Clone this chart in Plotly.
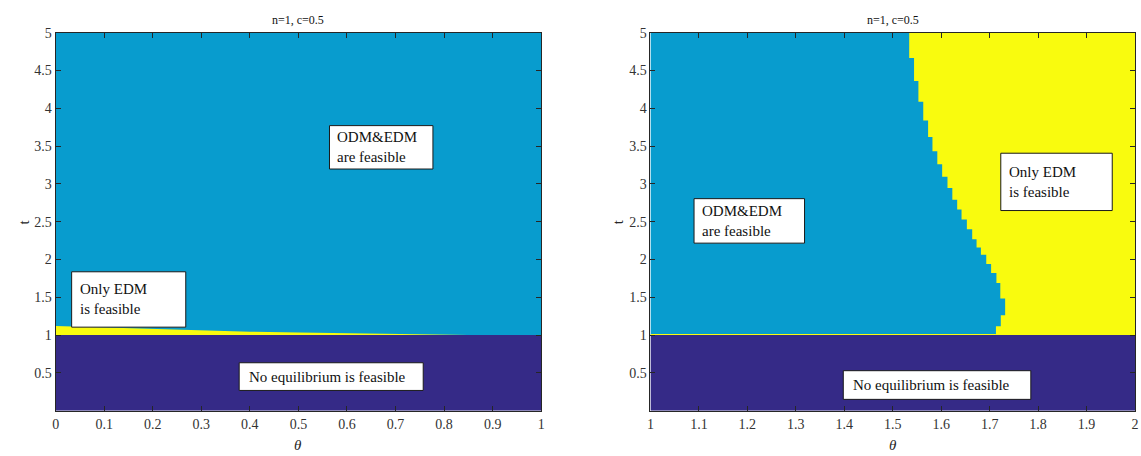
import plotly.graph_objects as go

W, H = 1141, 456

# ---------------- data ----------------
left_theta_range = [0.0, 1.0]
right_theta_range = [1.0, 2.0]
t_range = [0.0, 5.0]
t_threshold = 1.0  # below: no equilibrium

# left panel: thin "Only EDM" sliver above t=1
left_sliver_theta = [0.0, 0.1, 0.2, 0.3, 0.4, 0.5, 0.6, 0.7, 0.8, 0.85]
left_sliver_top = [1.12, 1.10, 1.08, 1.06, 1.045, 1.035, 1.025, 1.018, 1.012, 1.0]

# right panel: staircase boundary between ODM&EDM (left) and Only EDM (right)
right_step_t = [5.0, 4.664, 4.359, 4.085, 3.837, 3.618, 3.431, 3.258, 3.095, 2.944,
                2.791, 2.660, 2.529, 2.399, 2.268, 2.159, 2.063, 1.941, 1.820, 1.689,
                1.484, 1.261, 1.118, 1.033]
right_step_theta = [1.534, 1.544, 1.553, 1.563, 1.573, 1.582, 1.592, 1.602, 1.613, 1.623,
                    1.633, 1.642, 1.653, 1.664, 1.673, 1.682, 1.693, 1.703, 1.714, 1.722,
                    1.732, 1.723, 1.713]
right_sliver_top = 1.015

x_ticks_left = [0, 0.1, 0.2, 0.3, 0.4, 0.5, 0.6, 0.7, 0.8, 0.9, 1]
x_ticktext_left = ["0", "0.1", "0.2", "0.3", "0.4", "0.5", "0.6", "0.7", "0.8", "0.9", "1"]
x_ticks_right = [1, 1.1, 1.2, 1.3, 1.4, 1.5, 1.6, 1.7, 1.8, 1.9, 2]
x_ticktext_right = ["1", "1.1", "1.2", "1.3", "1.4", "1.5", "1.6", "1.7", "1.8", "1.9", "2"]
y_ticks = [0.5, 1, 1.5, 2, 2.5, 3, 3.5, 4, 4.5, 5]
y_ticktext = ["0.5", "1", "1.5", "2", "2.5", "3", "3.5", "4", "4.5", "5"]

panel_title = "n=1, c=0.5"

# label boxes: (text, theta0, theta1, t0, t1)
left_boxes = [
    ("ODM&EDM<br>are feasible", 0.564, 0.777, 3.196, 3.77),
    ("Only EDM<br>is feasible", 0.033, 0.268, 1.105, 1.837),
    ("No equilibrium is feasible", 0.378, 0.757, 0.268, 0.634),
]
right_boxes = [
    ("ODM&EDM<br>are feasible", 1.090, 1.318, 2.216, 2.804),
    ("Only EDM<br>is feasible", 1.723, 1.953, 2.647, 3.405),
    ("No equilibrium is feasible", 1.398, 1.785, 0.150, 0.529),
]

# ---------------- styles ----------------
C_DARK = "#352a87"
C_BLUE = "#089cce"
C_YEL = "#f9fb0e"
FONT = "'Liberation Serif', 'Times New Roman', Times, serif"
AX = "#262626"

fig = go.Figure()


def rect_trace(x0, x1, y0, y1, color, xa, ya):
    return go.Scatter(x=[x0, x1, x1, x0, x0], y=[y0, y0, y1, y1, y0], mode="lines",
                      fill="toself", fillcolor=color, line=dict(width=0, color=color),
                      xaxis=xa, yaxis=ya, hoverinfo="skip", showlegend=False)


# left panel
lx0, lx1 = left_theta_range
fig.add_trace(rect_trace(lx0, lx1, t_threshold, t_range[1], C_BLUE, "x", "y"))
fig.add_trace(rect_trace(lx0, lx1, t_range[0], t_threshold, C_DARK, "x", "y"))
sx = list(left_sliver_theta) + list(reversed(left_sliver_theta))
sy = list(left_sliver_top) + [t_threshold] * len(left_sliver_theta)
fig.add_trace(go.Scatter(x=sx, y=sy, mode="lines", fill="toself", fillcolor=C_YEL,
                         line=dict(width=0, color=C_YEL), xaxis="x", yaxis="y",
                         hoverinfo="skip", showlegend=False))

# right panel
rx0, rx1 = right_theta_range
fig.add_trace(rect_trace(rx0, rx1, t_threshold, t_range[1], C_BLUE, "x2", "y2"))
fig.add_trace(rect_trace(rx0, rx1, t_range[0], t_threshold, C_DARK, "x2", "y2"))
px = [rx1]
py = [right_step_t[0]]
for i, th in enumerate(right_step_theta):
    px += [th, th]
    py += [right_step_t[i], right_step_t[i + 1]]
px += [right_step_theta[-1], rx1, rx1]
py += [t_threshold, t_threshold, right_step_t[0]]
fig.add_trace(go.Scatter(x=px, y=py, mode="lines", fill="toself", fillcolor=C_YEL,
                         line=dict(width=0, color=C_YEL), xaxis="x2", yaxis="y2",
                         hoverinfo="skip", showlegend=False))
fig.add_trace(rect_trace(rx0, right_step_theta[-1], t_threshold, right_sliver_top, C_YEL, "x2", "y2"))

# boxes + text
shapes = []
annotations = []
for boxes, xr, yr in [(left_boxes, "x", "y"), (right_boxes, "x2", "y2")]:
    for text, a0, a1, b0, b1 in boxes:
        shapes.append(dict(type="rect", xref=xr, yref=yr, x0=a0, x1=a1, y0=b0, y1=b1,
                           line=dict(color="#1a1a1a", width=1), fillcolor="white", layer="above"))
        pad = (a1 - a0) * 0.055 if "<br>" in text else (a1 - a0) * 0.04
        annotations.append(dict(text=text, xref=xr, yref=yr, x=a0 + pad, y=(b0 + b1) / 2,
                                xanchor="left", yanchor="middle", align="left", showarrow=False,
                                font=dict(family=FONT, size=15, color="#111111")))

dom_l = [52 / W, 541 / W]
dom_r = [651 / W, 1139 / W]
dom_y = [1 - 410 / H, 1 - 26 / H]

for dom in (dom_l, dom_r):
    annotations.append(dict(text=panel_title, xref="paper", yref="paper",
                            x=(dom[0] + dom[1]) / 2, y=1 - 13 / H, xanchor="center",
                            yanchor="middle", showarrow=False,
                            font=dict(family=FONT, size=12, color="#111111")))
    annotations.append(dict(text="<i>θ</i>", xref="paper", yref="paper",
                            x=(dom[0] + dom[1]) / 2, y=1 - 445 / H, xanchor="center",
                            yanchor="middle", showarrow=False,
                            font=dict(family=FONT, size=15, color=AX)))
annotations.append(dict(text="t", xref="paper", yref="paper", x=20 / W, y=1 - 218 / H,
                        xanchor="center", yanchor="middle", showarrow=False, textangle=-90,
                        font=dict(family=FONT, size=15, color=AX)))
annotations.append(dict(text="t", xref="paper", yref="paper", x=618 / W, y=1 - 218 / H,
                        xanchor="center", yanchor="middle", showarrow=False, textangle=-90,
                        font=dict(family=FONT, size=15, color=AX)))

axis_style = dict(showline=True, linecolor=AX, linewidth=1, mirror="ticks", ticks="inside",
                  ticklen=5, tickcolor=AX, showgrid=False, zeroline=False,
                  tickfont=dict(family=FONT, size=14, color="#333333"), layer="above traces")

fig.update_layout(
    width=W, height=H, paper_bgcolor="white", plot_bgcolor="white",
    margin=dict(l=0, r=0, t=0, b=0), showlegend=False,
    xaxis=dict(domain=dom_l, range=left_theta_range, tickvals=x_ticks_left,
               ticktext=x_ticktext_left, anchor="y", **axis_style),
    yaxis=dict(domain=dom_y, range=t_range, tickvals=y_ticks, ticktext=y_ticktext,
               anchor="x", **axis_style),
    xaxis2=dict(domain=dom_r, range=right_theta_range, tickvals=x_ticks_right,
                ticktext=x_ticktext_right, anchor="y2", **axis_style),
    yaxis2=dict(domain=dom_y, range=t_range, tickvals=y_ticks, ticktext=y_ticktext,
                anchor="x2", **axis_style),
    shapes=shapes, annotations=annotations,
)

fig.write_html("out.html", config={"displayModeBar": False},
               post_script="document.body.style.margin='0';document.body.style.overflow='hidden';")
